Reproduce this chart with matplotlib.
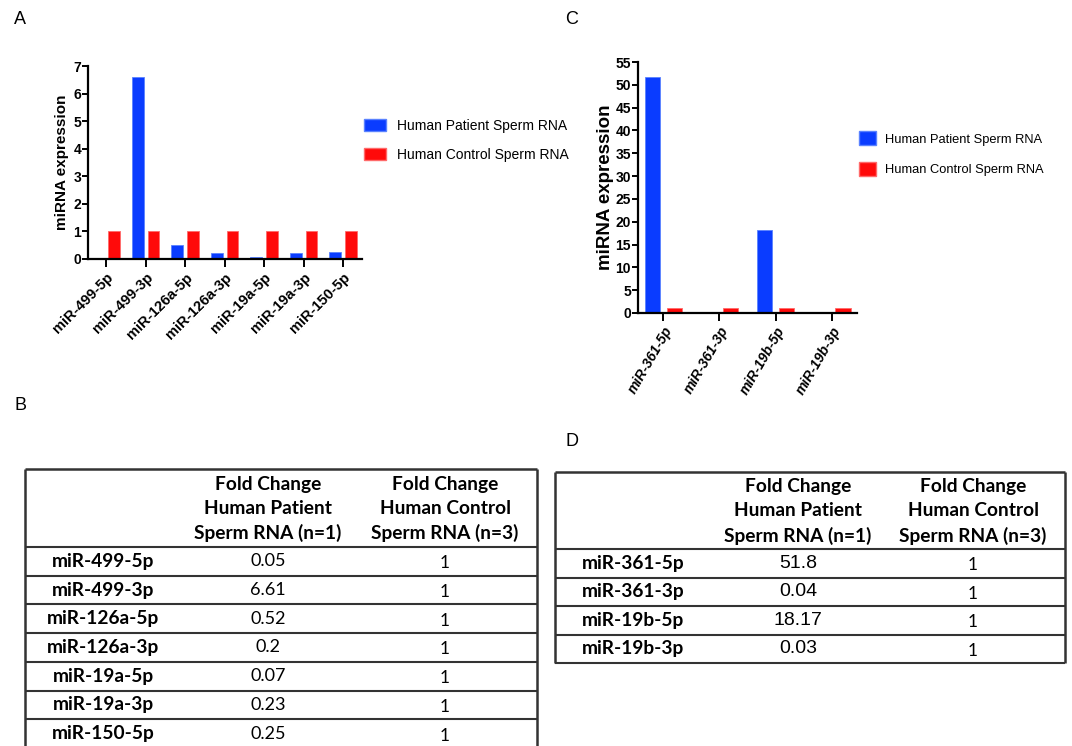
import matplotlib.pyplot as plt
import numpy as np
from matplotlib.patches import Patch

# panel A / B data
mirs_a = ["miR-499-5p", "miR-499-3p", "miR-126a-5p", "miR-126a-3p",
          "miR-19a-5p", "miR-19a-3p", "miR-150-5p"]
patient_a = [0.05, 6.61, 0.52, 0.2, 0.07, 0.23, 0.25]
control_a = [1, 1, 1, 1, 1, 1, 1]

# panel C / D data
mirs_c = ["miR-361-5p", "miR-361-3p", "miR-19b-5p", "miR-19b-3p"]
patient_c = [51.8, 0.04, 18.17, 0.03]
control_c = [1, 1, 1, 1]

series = ["Human Patient Sperm RNA", "Human Control Sperm RNA"]
header_b = ["", "Fold Change\nHuman Patient\nSperm RNA (n=1)",
            "Fold Change\nHuman Control\nSperm RNA (n=3)"]

BLUE = "#0a3cff"
RED = "#ff0a0a"
W, H = 1072, 746

plt.rcParams['font.family'] = ['Liberation Sans', 'DejaVu Sans']

fig = plt.figure(figsize=(W / 100, H / 100), dpi=100)


def px_axes(l, t, r, b):
    return fig.add_axes([l / W, 1 - b / H, (r - l) / W, (b - t) / H])


def style_axes(ax):
    for s in ["top", "right"]:
        ax.spines[s].set_visible(False)
    for s in ["left", "bottom"]:
        ax.spines[s].set_linewidth(1.6)
    ax.tick_params(axis="y", length=4, width=1.4, pad=1)
    ax.tick_params(axis="x", length=6, width=1.4, pad=2)


# ---- panel A
axA = px_axes(88, 66, 362, 259)
x = np.arange(len(mirs_a))
bw = 0.3
axA.bar(x - 0.2, patient_a, bw, color=BLUE, edgecolor="#5a82ff", linewidth=0.6)
axA.bar(x + 0.2, control_a, bw, color=RED, edgecolor="#ff6a6a", linewidth=0.6)
axA.set_xlim(-0.46, len(mirs_a) - 0.52)
axA.set_ylim(0, 7)
axA.set_yticks(range(0, 8))
axA.set_xticks(x)
axA.set_xticklabels(mirs_a, rotation=45, ha="right", rotation_mode="anchor",
                    fontsize=10.5, fontweight="bold")
for t in axA.get_yticklabels():
    t.set_fontsize(10)
    t.set_fontweight("bold")
axA.set_ylabel("miRNA expression", fontsize=11, fontweight="bold", labelpad=3)
style_axes(axA)
handles = [Patch(facecolor=BLUE, edgecolor="#5a82ff"),
           Patch(facecolor=RED, edgecolor="#ff6a6a")]
fig.legend(handles, series, loc="upper left",
           bbox_to_anchor=(364 / W, 1 - 119 / H), frameon=False, fontsize=10,
           handlelength=1.6, handleheight=0.95, handletextpad=0.8,
           labelspacing=1.05, borderpad=0, borderaxespad=0)

# ---- panel C
axC = px_axes(638, 62, 857, 313)
xc = np.arange(len(mirs_c))
bw = 0.27
axC.bar(xc - 0.19, patient_c, bw, color=BLUE, edgecolor="#5a82ff", linewidth=0.6)
axC.bar(xc + 0.2, control_c, bw, color=RED, edgecolor="#ff6a6a", linewidth=0.6)
axC.set_xlim(-0.45, len(mirs_c) - 0.55)
axC.set_ylim(0, 55)
axC.set_yticks(range(0, 56, 5))
axC.set_xticks(xc)
axC.set_xticklabels(mirs_c, rotation=60, ha="right", rotation_mode="anchor",
                    fontsize=10, fontweight="bold", fontstyle="italic")
for t in axC.get_yticklabels():
    t.set_fontsize(10)
    t.set_fontweight("bold")
axC.set_ylabel("miRNA expression", fontsize=13.5, fontweight="bold", labelpad=1)
style_axes(axC)
fig.legend(handles, series, loc="upper left",
           bbox_to_anchor=(859 / W, 1 - 131 / H), frameon=False, fontsize=9.3,
           handlelength=1.35, handleheight=1.35, handletextpad=0.65,
           labelspacing=1.25, borderpad=0, borderaxespad=0)

# ---- overlay for tables and panel letters (pixel coordinates)
ov = fig.add_axes([0, 0, 1, 1])
ov.set_xlim(0, W)
ov.set_ylim(H, 0)
ov.axis("off")

for lab, (lx, ly) in {"A": (20, 20), "C": (572, 20), "B": (20, 405), "D": (572, 441)}.items():
    ov.text(lx, ly, lab, fontsize=13, ha="center", va="center")

TF = ['Lato', 'DejaVu Sans']
LINE = "#333333"


def draw_table(left, right, top, head_bot, row_h, rows, vals, ctr,
               label_x, label_ha, val_family, val_size, last_open):
    n = len(rows)
    ys = [head_bot + i * row_h for i in range(n + 1)]
    bottom = ys[-1]
    ov.hlines(top, left, right, color=LINE, lw=1.8)
    ov.hlines(ys[:-1] if last_open else ys, left, right, color=LINE, lw=1.5)
    ov.vlines([left, right], top, bottom, color=LINE, lw=1.8)
    for j in (1, 2):
        ov.text(ctr[j], (top + head_bot) / 2 + 1, header_b[j], family=TF,
                fontsize=13.8, fontweight="bold", ha="center", va="center",
                linespacing=1.5)
    for i in range(n):
        yc = ys[i] + row_h / 2
        ov.text(label_x, yc, rows[i], family=TF, fontsize=13.8,
                fontweight="bold", ha=label_ha, va="center")
        ov.text(ctr[1], yc, f"{vals[0][i]:g}", family=val_family,
                fontsize=val_size, ha="center", va="center")
        ov.text(ctr[2], yc + 2, f"{vals[1][i]:g}", family=TF,
                fontsize=12.5, ha="center", va="center")


draw_table(25, 537, 469, 547, 28.7, mirs_a, (patient_a, control_a),
           (103, 268, 445), 103, "center", TF, 13, True)
draw_table(555, 1065, 472, 549, 28.5, mirs_c, (patient_c, control_c),
           (633, 798, 973), 582, "left", ['Liberation Sans', 'DejaVu Sans'],
           14, False)

fig.savefig("out.png", dpi=100)
